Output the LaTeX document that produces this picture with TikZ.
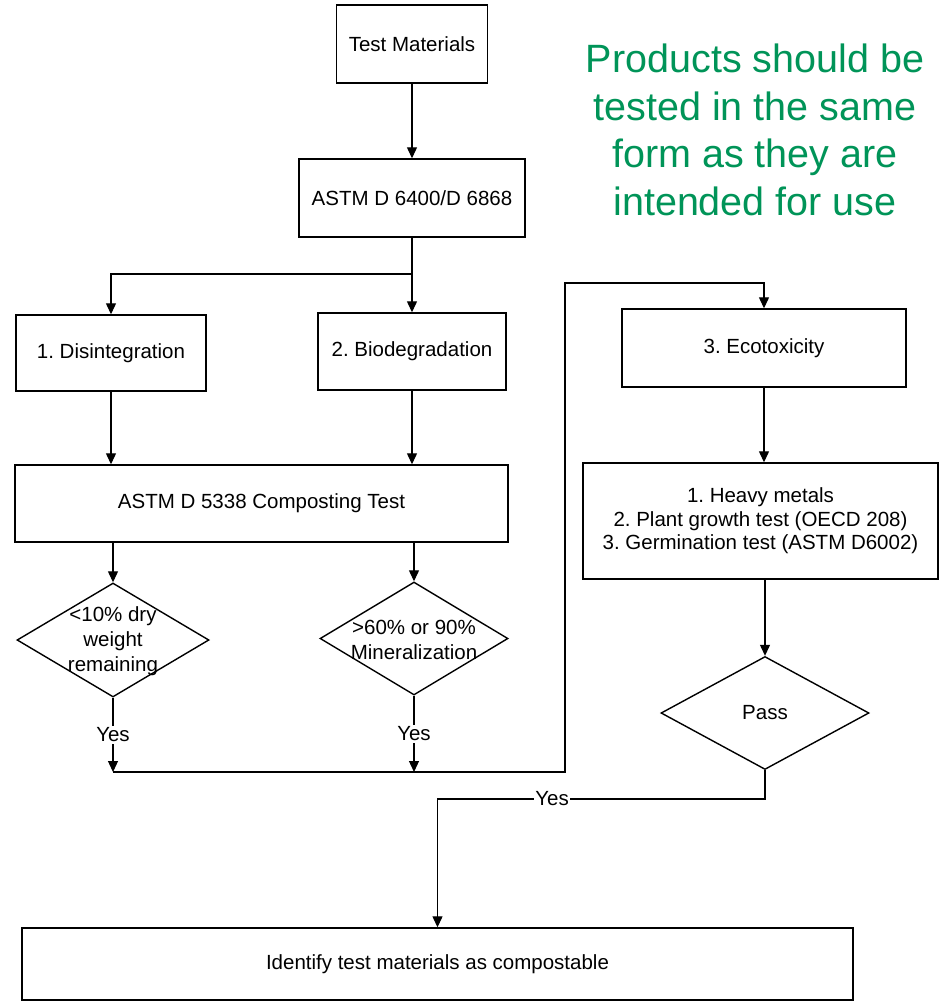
\documentclass[tikz,border=0pt]{standalone}
\usepackage{fontspec}
\setmainfont{Liberation Sans}
\usetikzlibrary{arrows.meta,shapes.geometric}
\definecolor{notegreen}{RGB}{0,148,88}
\frenchspacing

\begin{document}
\begin{tikzpicture}[x=1pt,y=-1pt,
    box/.style={draw,line width=1.4pt,inner sep=0pt,align=center,font=\fontsize{20.5}{23.5}\selectfont},
    dia/.style={draw,diamond,line width=1.4pt,inner sep=0pt},
    txt/.style={align=center,inner sep=0pt,font=\fontsize{20.5}{25}\selectfont},
    yes/.style={fill=white,inner sep=1.5pt,font=\fontsize{20.5}{24}\selectfont},
    arr/.style={-{Triangle[length=11pt,width=10pt]},line width=1.2pt},
    ln/.style={line width=1.2pt}]
    \useasboundingbox (0,0) rectangle (940,1002);
    % left part
    \node[box,minimum width=151pt,minimum height=78pt] (tm) at (412,44) {Test Materials};
    \node[box,minimum width=226pt,minimum height=78pt] (astm) at (412,198) {ASTM D 6400/D 6868};
    \node[box,minimum width=190pt,minimum height=76pt] (dis) at (111,353) {1. Disintegration};
    \node[box,minimum width=188pt,minimum height=77pt] (bio) at (412,351.5) {2. Biodegradation};
    \node[box,minimum width=493pt,minimum height=77pt] (comp) at (261.5,503.5) {ASTM D 5338 Composting Test};
    \node[dia,minimum width=192pt,minimum height=114pt] (drop) at (113,640) {};
    \node[txt] (droptxt) at (113,641.5) {<10\% dry\\weight\\remaining};
    \node[dia,minimum width=188pt,minimum height=113pt] (mine) at (414,638.5) {};
    \node[txt] (minetxt) at (414,640) {>60\% or 90\%\\Mineralization};
    % right part
    \node[box,minimum width=284pt,minimum height=78pt] (eco) at (764,348) {3. Ecotoxicity};
    \node[box,minimum width=355pt,minimum height=116pt] (tox) at (760.5,521) {1. Heavy metals\\2. Plant growth test (OECD 208)\\3. Germination test (ASTM D6002)};
    \node[dia,minimum width=208pt,minimum height=113pt,font=\fontsize{20.5}{24}\selectfont] (pass) at (765,713) {Pass};
    \node[box,minimum width=831pt,minimum height=72pt] (ident) at (437.5,964) {Identify test materials as compostable};
    \node[align=center,text=notegreen,font=\fontsize{39.5}{47.5}\selectfont] (note) at (755,130) {Products should be\\tested in the same\\form as they are\\intended for use};
    % connectors
    \coordinate (split) at (412,274);
    \coordinate (join1) at (113,772);
    \coordinate (join2) at (414,772);
    \coordinate (loopbot) at (565,772);
    \coordinate (looptop) at (565,283);
    \coordinate (passturn) at (765,799);
    \coordinate (identturn) at (437.5,799);
    \draw[arr] (tm) -- (astm);
    \draw[ln] (astm) -- (split);
    \draw[arr] (split) -| (dis.north);
    \draw[arr] (split) -- (bio.north);
    \draw[arr] (dis.south) -- (dis.south |- comp.north);
    \draw[arr] (bio.south) -- (bio.south |- comp.north);
    \draw[arr] (comp.south -| drop) -- (drop.north);
    \draw[arr] (comp.south -| mine) -- (mine.north);
    \draw[arr] (drop.south) -- node[yes] (yes1) {Yes} (join1);
    \draw[arr] (mine.south) -- node[yes] (yes2) {Yes} (join2);
    \draw[arr] (join1) -- (loopbot) -- (looptop) -| (eco.north);
    \draw[arr] (eco.south) -- (eco.south |- tox.north);
    \draw[arr] (tox.south -| pass) -- (pass.north);
    \draw[arr] (pass.south) -- (passturn) -- node[yes,pos=0.65] (yes3) {Yes} (identturn) -- (ident.north);
\end{tikzpicture}
\end{document}
